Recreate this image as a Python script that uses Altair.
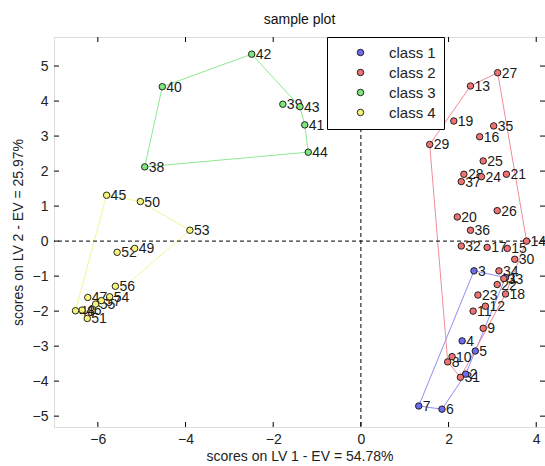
import altair as alt
import pandas as pd
import numpy as np

# ---------------- data ----------------
ids = list(range(1, 58))
xs = [3.30, 2.39, 2.58, 2.31, 2.61, 1.85, 1.32,            # class 1 (1-7)
      1.98, 2.79, 2.08, 2.56, 2.84, 2.50, 3.78, 3.34, 2.71, 2.88, 3.30, 2.12,
      2.20, 3.32, 3.11, 2.67, 2.75, 2.79, 3.11, 3.12, 2.35, 1.57, 3.51, 2.27,
      2.29, 3.26, 3.15, 3.03, 2.50, 2.29,                   # class 2 (8-37)
      -4.93, -1.78, -4.53, -1.28, -2.49, -1.39, -1.20,     # class 3 (38-44)
      -5.80, -6.36, -6.23, -6.51, -5.16, -5.03, -6.24, -5.56, -3.90, -5.73,
      -6.05, -5.60, -5.92]                                  # class 4 (45-57)
ys = [-1.04, -3.80, -0.85, -2.85, -3.14, -4.80, -4.71,
      -3.45, -2.49, -3.30, -2.00, -1.86, 4.43, 0.00, -0.21, 2.98, -0.18, -1.51, 3.43,
      0.69, 1.91, -1.24, -1.54, 1.84, 2.29, 0.87, 4.81, 1.91, 2.76, -0.52, -3.89,
      -0.14, -1.07, -0.85, 3.29, 0.31, 1.70,
      2.12, 3.91, 4.41, 3.32, 5.34, 3.84, 2.54,
      1.31, -1.97, -1.61, -1.99, -0.21, 1.13, -2.21, -0.32, 0.31, -1.59,
      -1.80, -1.29, -1.70]
classes = (["class 1"] * 7 + ["class 2"] * 30 + ["class 3"] * 7 + ["class 4"] * 13)

class_names = ["class 1", "class 2", "class 3", "class 4"]
fill_colors = ["#6d6dee", "#f07373", "#7ee67e", "#f4f47a"]
line_colors = ["#8f8ff0", "#f08c96", "#8fe88f", "#f4f49a"]

x_ticks = [-6, -4, -2, 0, 2, 4]
y_ticks = [-5, -4, -3, -2, -1, 0, 1, 2, 3, 4, 5]
zero = [0]

W, H = 491, 390
XD = [-7.0, 4.2]
YD = [-5.31, 5.83]

pts = pd.DataFrame({"id": ids, "x": xs, "y": ys, "cls": classes})
pts["label"] = pts["id"].astype(str)


def hull(df):
    p = sorted(zip(df["x"], df["y"]))
    def cross(o, a, b):
        return (a[0] - o[0]) * (b[1] - o[1]) - (a[1] - o[1]) * (b[0] - o[0])
    lower, upper = [], []
    for q in p:
        while len(lower) >= 2 and cross(lower[-2], lower[-1], q) <= 0:
            lower.pop()
        lower.append(q)
    for q in reversed(p):
        while len(upper) >= 2 and cross(upper[-2], upper[-1], q) <= 0:
            upper.pop()
        upper.append(q)
    h = lower[:-1] + upper[:-1]
    return h + [h[0]]


xs_scale = alt.Scale(domain=XD, nice=False, zero=False)
ys_scale = alt.Scale(domain=YD, nice=False, zero=False)

FONT = "Liberation Sans"

x_axis = alt.Axis(values=x_ticks, title="scores on LV 1 - EV = 54.78%", labelPadding=5,
                  titlePadding=3, labelOverlap=False)
y_axis = alt.Axis(values=y_ticks, title="scores on LV 2 - EV = 25.97%", labelPadding=6,
                  titlePadding=7, labelOverlap=False)

line_layers = []
for c, col in zip(class_names, line_colors):
    h = hull(pts[pts.cls == c])
    hd = pd.DataFrame({"x": [q[0] for q in h], "y": [q[1] for q in h],
                       "o": list(range(len(h)))})
    line_layers.append(
        alt.Chart(hd).mark_line(strokeWidth=1, color=col, clip=True).encode(
            x=alt.X("x:Q", scale=xs_scale, axis=x_axis),
            y=alt.Y("y:Q", scale=ys_scale, axis=y_axis),
            order="o:Q",
        )
    )

zx = alt.Chart(pd.DataFrame({"v": zero})).mark_rule(
    color="black", strokeDash=[4, 3], strokeWidth=1).encode(
    x=alt.X("v:Q", scale=xs_scale, axis=x_axis))
zy = alt.Chart(pd.DataFrame({"v": zero})).mark_rule(
    color="black", strokeDash=[4, 3], strokeWidth=1).encode(
    y=alt.Y("v:Q", scale=ys_scale, axis=y_axis))

points = alt.Chart(pts).mark_point(shape="circle", filled=True, size=42, opacity=1,
                                   stroke="#111", strokeWidth=0.9).encode(
    x=alt.X("x:Q", scale=xs_scale, axis=x_axis),
    y=alt.Y("y:Q", scale=ys_scale, axis=y_axis),
    fill=alt.Fill("cls:N", scale=alt.Scale(domain=class_names, range=fill_colors),
                  legend=alt.Legend(title=None)),
)

labels = alt.Chart(pts).mark_text(align="left", baseline="middle", dx=4, dy=1,
                                  fontSize=14, font=FONT, color="#1a1a1a").encode(
    x=alt.X("x:Q", scale=xs_scale, axis=x_axis),
    y=alt.Y("y:Q", scale=ys_scale, axis=y_axis),
    text="label:N",
)

tick_style = dict(color="black", strokeWidth=1)
xt = pd.DataFrame({"v": x_ticks})
yt = pd.DataFrame({"v": y_ticks})
top_ticks = alt.Chart(xt).mark_rule(**tick_style).encode(
    x=alt.X("v:Q", scale=xs_scale, axis=x_axis), y=alt.value(0), y2=alt.value(5))
bot_ticks = alt.Chart(xt).mark_rule(**tick_style).encode(
    x=alt.X("v:Q", scale=xs_scale, axis=x_axis), y=alt.value(H), y2=alt.value(H - 5))
left_ticks = alt.Chart(yt).mark_rule(**tick_style).encode(
    y=alt.Y("v:Q", scale=ys_scale, axis=y_axis), x=alt.value(0), x2=alt.value(5))
right_ticks = alt.Chart(yt).mark_rule(**tick_style).encode(
    y=alt.Y("v:Q", scale=ys_scale, axis=y_axis), x=alt.value(W), x2=alt.value(W - 5))

chart = alt.layer(*line_layers, zx, zy, labels, points, top_ticks, bot_ticks, left_ticks,
                  right_ticks).properties(
    width=W, height=H,
    title=alt.Title("sample plot", fontSize=14, font=FONT, fontWeight="normal",
                    color="#111", anchor="middle", offset=10),
    autosize=alt.AutoSizeParams(type="none"),
    padding={"left": 54, "top": 37, "right": 0, "bottom": 39},
).configure_view(stroke="black", strokeWidth=1.2).configure(
    background="white"
).configure_axis(
    grid=False, ticks=False, domain=False, labelFontSize=14, titleFontSize=14,
    titleFontWeight="normal", labelColor="#222", titleColor="#222",
    labelFont=FONT, titleFont=FONT, labelOverlap=False
).configure_legend(
    orient="none", legendX=273, legendY=0, direction="vertical", symbolType="circle",
    symbolSize=42, symbolStrokeColor="#111", symbolStrokeWidth=0.9, symbolOffset=18,
    labelOffset=21, labelFontSize=15, labelFont=FONT, labelColor="#222", rowPadding=4,
    padding=8, strokeColor="black", fillColor="white", cornerRadius=0, labelLimit=200
)

chart.save("out.html", embed_options={"renderer": "svg", "actions": False})
